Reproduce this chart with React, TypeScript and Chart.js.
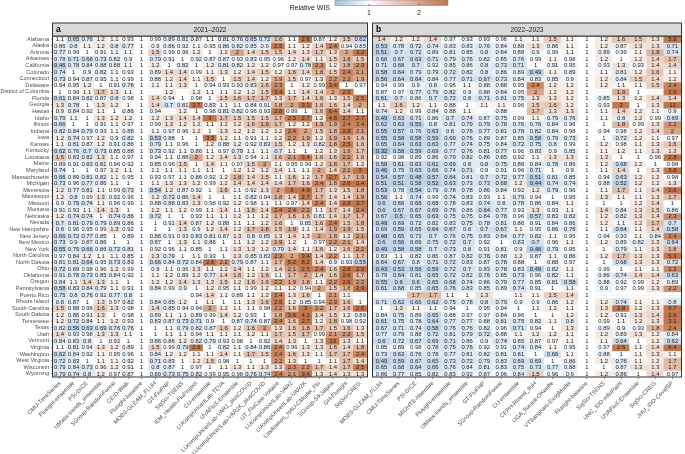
import React, { useEffect, useRef } from "react";
import { Chart, registerables } from "chart.js";
Chart.register(...registerables);

const FONT = "'Liberation Sans', Arial, Helvetica, sans-serif";

const states = [
  "Alabama", "Alaska", "Arizona", "Arkansas", "California", "Colorado", "Connecticut", "Delaware",
  "District of Columbia", "Florida", "Georgia", "Hawaii", "Idaho", "Illinois", "Indiana", "Iowa",
  "Kansas", "Kentucky", "Louisiana", "Maine", "Maryland", "Massachusetts", "Michigan", "Minnesota",
  "Mississippi", "Missouri", "Montana", "Nebraska", "Nevada", "New Hampshire", "New Jersey",
  "New Mexico", "New York", "North Carolina", "North Dakota", "Ohio", "Oklahoma", "Oregon",
  "Pennsylvania", "Puerto Rico", "Rhode Island", "South Carolina", "South Dakota", "Tennessee",
  "Texas", "Utah", "Vermont", "Virginia", "Washington", "West Virginia", "Wisconsin", "Wyoming",
];

const modelsA = [
  "CMU-TimeSeries", "Flusight-ensemble", "PSI-DICE", "UMass-trends_ensemble", "SGroup-RandomForest",
  "CEID-Walk", "Flusight-baseline", "MOBS-GLEAM_FLUH", "GT-FluFNP", "SigSci-TSENS",
  "IEM_Health-FluProject", "CU-ensemble", "LUcompUncertLab-TEVA", "UVAFluX-Ensemble",
  "LUcompUncertLab-VAR2_plusCOVID", "LUcompUncertLab-VAR2K_plusCOVID", "UT_FluCast-Voltaire",
  "LUcompUncertLab-VAR2", "LUcompUncertLab-VAR2K", "LosAlamos_NAU-CModel_Flu", "SGroup-SIkJalpha",
  "GH-Flusight", "SigSci-CREG",
];

const modelsB = [
  "MOBS-GLEAM_FLUH", "CMU-TimeSeries", "PSI-DICE", "MIGHTE-Nsemble", "Flusight-ensemble",
  "UMass-trends_ensemble", "GT-FluFNP", "SGroup-RandomForest", "CU-ensemble", "CEPH-Rtrend_fluH",
  "UGA_flucast-OKeeffe", "VTSanghani-ExogModel", "Flusight-baseline", "SigSci-TSENS",
  "UNC_IDD-InfluPaint", "UVAFluX-Ensemble", "SigSci-CREG", "JHU_IDD-CovidSP",
];

// Relative WIS, season 2021-2022 (rows = states, columns = modelsA)
const wisA: (number | null)[][] = [
  [1.1,0.65,0.76,1.2,1.1,0.93,1,0.99,0.89,0.81,0.87,1.1,0.81,0.76,0.65,0.72,1.6,1.1,2.6,0.87,1.2,1.5,0.62],
  [0.86,0.8,1.1,1.2,0.8,0.77,1,0.9,0.86,0.92,1.1,0.95,0.86,0.82,0.85,0.9,2.5,1.1,1.2,1.4,2.4,0.94,0.85],
  [0.77,0.99,1,0.91,1.1,1.1,1,1.5,0.99,0.96,1.2,1,1.2,2,1.4,1.5,1.5,1.4,1.3,1.7,1.3,2,3.2],
  [0.78,0.71,0.68,0.73,0.82,0.9,1,0.79,0.91,1,0.92,0.87,0.87,0.93,0.83,0.95,0.96,1.2,1.4,1.1,1.5,1.8,1.5],
  [0.46,0.78,0.84,0.88,0.88,1.1,1,1.2,1,0.82,1,1.2,0.81,0.82,1.2,1.2,0.97,0.97,0.78,2.3,1.2,1.8,2.3],
  [0.74,1,0.9,0.82,1.1,0.93,1,0.89,1.4,1.4,0.99,1.1,1.3,1.2,1.4,1.5,1.2,1.6,1.4,1.8,1.5,2.4,2.1],
  [0.73,0.94,0.87,0.95,1.1,0.99,1,0.88,1.2,1.4,1.1,1.5,1,1.5,1.4,1.2,1.9,1.5,0.97,1.3,2.2,2.2,1.9],
  [0.94,0.95,1.2,1,0.91,0.76,1,1.1,1.1,1.3,1,0.94,0.93,0.93,0.83,1.6,2.3,1,1.2,0.99,3.4,1,0.97],
  [1,0.99,1.1,1.7,1.3,1.1,1,null,1.2,null,1.2,1.1,1.1,1.2,1.2,1.5,3.4,1.1,1.4,1.4,2,2.5,null],
  [0.61,0.84,0.82,0.87,0.8,0.98,1,1.4,0.94,1,0.98,1,1.5,1.6,1.7,1.7,1.3,1.7,1.4,1.6,1.3,1.5,2.5],
  [1.3,0.78,1,1.3,1.2,1,1,1.4,0.7,0.81,3.7,0.83,1.1,1.1,0.84,0.91,1.8,2,3.3,1.6,1.6,1.4,2],
  [0.9,0.84,0.92,1.1,1,0.86,1,0.94,null,1.2,1,0.98,0.81,0.82,0.96,0.93,2.8,0.99,1,1.6,6.4,1.4,1.1],
  [0.79,1.1,1,1.3,1.2,1.2,1,1.2,1.3,1.4,1.4,3,1.7,1.5,1.5,1.5,1.7,2.5,2.7,1.2,4.8,2.7,2.7],
  [0.66,1,1,0.91,1.1,0.97,1,0.99,1.3,1.2,1.2,1.1,1.2,1.2,1.6,1.9,1.7,1.2,1.2,1.9,1.9,2.4,2.4],
  [0.82,0.84,0.79,0.93,1.1,0.88,1,1.1,0.97,0.96,1.2,1,1.3,1.2,1.2,1.2,1.2,2.4,2,1.5,1.8,2.8,2.1],
  [1.2,0.74,0.97,1.2,0.9,0.82,1,0.53,0.88,1,1,3.3,1.2,1.1,0.91,1.1,1.2,2.2,1.9,1.2,1.9,1.9,1.6],
  [1.1,0.81,0.87,1.2,0.91,0.86,1,0.79,1.1,0.96,1,1.2,0.88,1.2,0.92,0.83,1.5,1.2,1.3,0.82,1.8,2.5,1.6],
  [0.62,0.76,0.7,0.73,0.85,0.88,1,0.73,0.92,1.1,0.86,1.1,0.97,0.79,1.1,1.1,0.7,1.1,1,1.2,1.3,1.9,1.7],
  [1.6,0.83,0.82,1.3,1.1,0.97,1,0.94,1.1,0.88,2,1.2,1.4,1.3,0.94,1.1,1.6,2.1,3.4,1.6,1.6,2.2,1.6],
  [0.89,0.91,0.83,0.81,0.96,0.92,1,0.85,0.96,1.5,1,1.4,1.1,0.97,1.5,2,1.1,0.95,0.99,1.2,1.8,1.7,1.2],
  [0.74,1,1,0.97,1.2,1.1,1,1.1,1.1,1.1,1.1,1.1,1,1.2,1.2,1.2,1.4,1.1,1.1,2,1.4,2.1,3],
  [0.66,0.89,0.81,0.82,1.1,0.95,1,0.93,0.97,1.1,0.86,0.92,1.2,1.8,1.4,1.5,1.1,1.6,1.2,1.7,2.7,1.7,1.9],
  [0.73,0.96,0.77,0.86,1.1,1,1,1.1,1.3,1.3,1.2,0.99,1.2,1.4,1.4,1.4,1.4,1.7,1.6,2.4,1.8,2.6,3.4],
  [1.2,0.77,0.81,1.1,0.99,0.73,1,0.54,1.2,0.87,0.92,1,1.6,1.1,0.92,1.3,2,3,4.9,1.7,1.3,1.5,1.8],
  [1.2,0.8,0.99,1.3,0.92,0.96,1,1.2,0.72,0.86,1.4,1,1,1.1,0.82,0.94,1.8,1.4,2.7,1.7,1.4,1.4,1.9],
  [0.9,0.79,0.74,1.1,0.96,0.99,1,0.88,0.88,0.83,1.3,0.98,0.92,1.2,0.98,1.1,1.1,0.97,1.4,2.4,1.4,2.8,3.7],
  [0.91,0.93,1.1,1.4,1.3,1,1,1.2,1.1,1.2,0.99,1.1,1.4,1.1,1.6,1.4,2.4,2.4,2.2,1.1,1.7,1.4,2.4],
  [1.2,0.74,0.74,1,0.74,0.86,1,0.72,1,1,0.93,1.1,1.1,1.2,1.1,1.2,1.7,1.6,1.6,0.81,1.4,1.7,1.7],
  [0.7,0.81,0.79,0.79,0.89,0.86,1,1,0.91,1.4,0.87,1.2,0.88,1.1,1.1,1.2,1.6,1,0.85,1.6,2.4,1.5,1.8],
  [0.8,0.96,0.95,0.99,1.3,0.92,1,1,1,1.3,0.9,1.2,1.4,1.2,1.7,1.8,1.5,1.9,1.1,1.4,1.9,1.9,1.5],
  [0.66,0.72,0.77,0.85,1,0.89,1,0.86,0.91,0.93,0.83,0.81,0.87,1.3,0.8,0.85,1.3,1.4,1.3,2,1.8,1.2,2.1],
  [0.73,0.9,0.87,0.86,1,1,1,0.87,1,1.3,1.1,0.86,1,1.1,1.2,1.2,1.9,1.2,1,0.97,2.2,2.1,1.4],
  [0.55,0.75,0.66,0.86,0.72,0.81,1,0.92,0.96,1.1,0.85,1,1.1,1.3,1.3,1.2,0.79,1.4,1.1,1.6,1.2,1.6,2.2],
  [0.97,0.84,1.2,1.1,1.1,0.85,1,1.3,0.79,1,1.1,0.93,1,1.3,0.85,0.83,2.3,2,3.4,1.4,2.2,1.1,1.7],
  [0.81,0.81,0.64,0.95,0.73,0.83,1,0.66,0.84,0.72,0.84,2.9,2.2,0.79,0.87,1.1,1.7,5.2,8.2,1.4,0.9,0.93,0.55],
  [0.72,0.89,0.98,0.96,1.2,0.99,1,0.9,1.1,0.96,1.3,1.1,1.2,1.4,1.1,1.2,1.4,2.1,2.5,2.4,1.6,2.8,2.9],
  [0.91,0.78,0.73,0.85,0.84,0.92,1,1.1,1.2,0.89,1.2,0.77,1.4,1.6,1.2,1.6,1.1,1.7,2,1.4,1.6,2.6,1.7],
  [0.84,1.1,1.4,1.3,1.1,1,1,1.2,1.2,1.4,1.3,1.3,1.5,1.2,1.6,1.6,2.2,1.9,1.8,1.1,2.2,2.6,2.2],
  [0.58,0.83,0.84,0.79,1.1,0.91,1,0.84,0.99,0.9,1,1.2,0.95,1.1,0.99,1.2,1.1,1.2,0.94,2,1.5,1.8,2.9],
  [0.75,0.8,0.76,0.92,0.77,0.8,1,null,null,null,0.94,1.4,1.1,0.89,1.1,1.2,2.4,1.3,1.6,1,2.1,1.1,null],
  [0.8,0.87,1,1.3,0.97,0.82,1,0.84,0.85,1.2,1,1.1,1,1.1,1.3,1.6,2.5,1.2,0.85,0.94,2.3,1.6,1],
  [1.5,0.88,0.96,1.6,1.3,0.98,1,1.4,0.85,0.94,0.94,2,1.2,1.1,1.1,0.98,2.2,1.6,3,2.2,1.7,1.6,2.6],
  [1.2,0.86,0.91,1.3,1,0.98,1,0.89,1.1,1.1,0.89,0.99,1.4,1.2,0.93,1,1.8,3.6,4.1,1.4,1.5,1.2,0.89],
  [1.2,0.72,0.84,1.1,1.2,0.93,1,0.83,0.87,0.73,0.71,0.9,1,0.87,0.74,0.87,2.4,1.6,2.7,1.2,1.8,0.98,0.92],
  [0.82,0.56,0.63,0.69,0.76,0.76,1,1,1.1,0.79,0.82,0.87,1.6,1.2,1.6,2,1.3,1.6,1.8,1.7,1.5,1.6,1.3],
  [1.4,0.93,0.98,1.3,1.3,1.1,1,1,1.1,1.1,0.94,1.1,1.1,1.1,1.2,1.1,1.7,1.5,1.7,0.99,2.1,2.2,1.5],
  [0.84,0.83,0.8,1,0.92,1,1,0.86,0.86,1.2,0.82,0.79,0.93,0.98,1,0.92,1.4,1.3,1,1.3,13,1.3,1.1],
  [1.1,0.81,0.94,1.3,1.2,0.89,1,1.5,0.99,0.79,2.6,1,0.82,1.1,0.84,0.86,2.4,0.96,1.3,1.3,1.6,1.4,1.8],
  [0.62,0.84,0.92,1.1,0.95,0.96,1,0.84,1.2,1.2,1.1,1.1,1.4,1.1,1.7,1.5,2.4,1.6,1.3,1.1,1.7,1.7,2.4],
  [0.72,0.83,1,1.1,1.1,0.92,1,0.71,0.83,1,1.2,1.5,0.98,1,1,1,2.2,1.3,1,1,1.1,1.7,1.4],
  [0.79,0.84,0.73,0.96,1.2,0.91,1,0.8,0.87,1,0.97,1,1.1,1.3,1.1,1.3,1.3,2.3,2.2,1.7,1.4,1.7,2.5],
  [0.79,0.74,0.8,1.2,0.97,0.87,1,0.89,0.73,0.75,0.82,0.99,0.95,0.98,0.76,0.74,2.4,2.1,3.4,1.3,1.4,1.3,1.3],
];

// Relative WIS, season 2022-2023 (rows = states, columns = modelsB)
const wisB: (number | null)[][] = [
  [1.4,1.2,1.2,1.4,0.97,0.93,0.93,0.96,1.1,1.1,1.5,1.1,1,1.2,1.6,1.5,1.3,5.8],
  [0.53,0.78,0.72,0.74,0.83,0.83,0.76,0.84,0.88,1.3,0.86,1.1,1,1.2,0.87,1.3,1.3,0.71],
  [0.51,0.7,0.72,0.89,0.81,0.85,0.8,0.84,0.88,0.9,0.99,1.1,1,0.89,0.99,1.1,1.8,0.74],
  [0.68,0.67,0.63,0.71,0.79,0.76,0.82,0.85,0.76,0.99,1.1,0.98,1,1.2,1,1.2,1.4,1.7],
  [0.71,0.68,0.7,0.92,0.85,0.86,0.8,0.73,0.71,1,0.91,0.95,1,0.93,1.3,0.93,1.4,1.4],
  [0.58,0.64,0.79,0.79,0.72,0.82,0.8,0.86,0.89,0.49,1.1,0.89,1,1.1,0.81,1.2,1.6,1.1],
  [0.56,0.64,0.64,0.84,0.77,0.71,0.67,0.73,0.84,0.83,0.85,0.9,1,1.2,0.84,1.5,1.4,1.2],
  [0.94,0.99,0.9,0.8,0.96,1.1,0.88,0.88,0.95,2.4,1.2,1.2,1,1.2,1.1,1.1,1.5,2.4],
  [0.87,0.97,0.77,0.79,0.82,0.9,0.88,0.84,0.95,2,1.2,1.2,1,null,1.9,1,null,2.8],
  [0.61,0.7,0.86,0.7,0.72,0.8,0.71,0.81,0.75,1.3,1.3,1.2,1,0.85,1.3,1.2,1.4,1.4],
  [1.1,1.6,1.2,1.1,0.88,1,1.1,1.1,0.96,1.5,1.6,1.2,1,0.93,3,1,1.3,12],
  [0.74,1.2,0.99,0.84,0.88,1.1,null,0.88,null,1.7,1.3,1.3,1,1.1,1.4,1.2,1.1,0.9],
  [0.49,0.63,0.71,0.86,0.7,0.74,0.87,0.75,0.99,1.1,0.79,0.76,1,1.1,0.8,1.2,0.99,0.69],
  [0.62,0.63,0.55,0.8,0.81,0.79,0.79,0.78,0.76,0.76,0.84,0.96,1,1,1.8,0.99,1.3,2.2],
  [0.55,0.57,0.76,0.63,0.8,0.76,0.77,0.81,0.78,0.82,0.84,0.98,1,0.94,0.98,1.2,1.4,2],
  [0.55,0.58,0.58,0.59,0.69,0.76,0.89,0.87,0.85,0.58,0.79,0.73,1,1,0.72,1.2,1.1,0.97],
  [0.65,0.64,0.63,0.63,0.77,0.74,0.75,0.84,0.72,0.75,0.8,0.99,1,1.2,0.98,1.1,1.3,1.6],
  [0.32,0.58,0.59,0.69,0.77,0.76,0.81,0.77,0.96,0.83,0.9,0.85,1,1.1,1.2,1.1,1.3,1.3],
  [0.92,0.98,0.89,0.86,0.79,0.82,0.86,0.85,0.92,1.1,1.3,1.3,1,1.3,1,1,0.96,2.8],
  [0.58,0.61,0.63,0.61,0.69,0.8,0.8,0.75,0.86,0.84,0.78,0.86,1,1.2,0.68,1.2,1,0.98],
  [0.46,0.75,0.63,0.66,0.74,0.71,0.9,0.91,0.96,0.71,1,0.9,1,1.1,1.4,1,1.3,3.8],
  [0.54,0.57,0.48,0.57,0.64,0.81,0.7,0.72,0.77,0.51,0.81,0.85,1,0.94,0.63,1.2,1.2,0.98],
  [0.51,0.51,0.58,0.52,0.63,0.73,0.73,0.68,1.2,0.44,0.74,0.74,1,0.88,0.52,1.2,1.2,1.3],
  [0.53,0.78,0.54,0.79,0.78,0.78,0.86,0.84,0.92,1.2,0.79,0.96,1,1.1,1.7,1.1,1.4,2.6],
  [0.56,1.1,0.74,0.99,0.74,0.83,0.93,1.1,0.79,0.94,1,0.95,1,1.3,1.1,1.1,1.3,1.7],
  [0.6,0.66,0.68,0.68,0.78,0.83,0.74,0.8,0.78,0.86,0.84,1.1,1,1,1,1.2,1.4,1],
  [0.6,0.67,0.67,0.69,0.76,0.86,0.64,0.77,0.93,1.3,0.93,1.1,1,1.4,0.84,1.3,1.5,0.86],
  [0.67,0.5,0.65,0.63,0.75,0.75,0.84,0.78,0.96,0.57,0.83,0.82,1,1.2,0.82,1.3,1.4,2.3],
  [0.49,0.69,0.72,0.82,0.83,0.75,0.78,0.81,0.86,0.91,0.84,0.86,1,1.2,1.1,1.2,1.7,0.7],
  [0.69,0.59,0.65,0.64,0.67,0.8,0.7,0.67,1.1,0.95,0.86,0.78,1,1.1,0.64,1.1,1.4,0.58],
  [0.48,0.65,0.73,0.7,0.76,0.75,0.83,0.84,0.77,0.82,1.1,0.95,1,0.94,0.93,1.1,0.84,2.4],
  [0.6,0.56,0.69,0.75,0.72,0.7,0.92,1,0.83,0.7,0.96,1.1,1,1.2,0.89,0.82,1.3,0.64],
  [0.49,0.58,0.58,0.7,0.73,0.8,0.91,0.81,0.9,0.46,0.79,0.95,1,1,0.79,1.1,1.3,1.8],
  [0.83,1.1,0.82,0.86,0.87,0.82,0.76,0.88,1.2,0.87,1.1,0.86,1,1.2,1.7,1.3,1.3,5.3],
  [0.64,0.67,0.8,0.71,0.72,0.83,0.87,0.78,0.88,1,0.88,0.97,1,1,0.68,1.3,1.3,0.72],
  [0.43,0.53,0.56,0.59,0.72,0.7,0.83,0.78,0.83,0.49,0.82,1.1,1,0.99,1,1.1,1.1,2.3],
  [0.79,0.64,0.81,0.65,0.72,0.82,0.76,0.85,0.73,0.96,0.82,1.1,1,0.89,0.74,1.4,1.4,0.63],
  [0.55,0.6,0.6,0.65,0.68,0.74,0.86,0.79,0.77,0.85,0.81,0.58,1,0.88,0.92,0.99,1.2,0.89],
  [0.61,0.68,0.85,0.65,0.76,0.83,0.85,0.89,0.74,0.91,1,1.1,1,0.9,0.97,0.99,1.3,2.2],
  [null,null,1.7,1.7,1.1,1,1.3,null,1.1,1.1,1.5,1.4,1,null,null,null,null,null],
  [0.71,0.62,0.66,0.62,0.75,0.78,0.8,0.79,0.9,0.9,0.86,1.2,1,1.2,0.74,1.1,1.1,0.8],
  [1,1.3,1.1,1.1,0.94,1,0.95,0.94,1,1.1,1.2,1.1,1,1.3,2.8,1.2,1.3,5.7],
  [0.84,0.75,0.89,0.65,0.88,0.97,0.97,0.84,0.96,1,1,1.2,1,1.2,0.91,1.3,1.4,2.6],
  [0.61,0.75,0.78,0.64,0.77,0.77,0.88,0.81,0.75,0.82,1.1,0.8,1,0.99,1.1,1.2,1.3,3.1],
  [0.67,0.71,0.74,0.58,0.76,0.76,0.82,0.96,0.71,0.94,1,1.3,1,0.89,0.9,0.93,1.8,2.4],
  [0.77,0.79,0.88,0.72,0.81,0.79,0.72,0.88,1.1,1.2,1.2,1.1,1,1.2,0.89,1.3,1.2,0.84],
  [0.6,0.72,0.67,0.69,0.71,0.86,0.9,0.74,0.85,0.87,0.97,1.1,1,1.1,0.64,1,1.2,0.62],
  [0.85,0.89,0.98,0.78,0.75,0.76,0.92,0.91,0.74,0.84,1.1,0.95,1,0.97,2.6,1.1,1.4,6.4],
  [0.73,0.63,0.76,0.78,0.77,0.81,0.82,0.81,0.81,1,0.66,1.1,1,0.88,1,1.1,1.3,1.1],
  [0.49,0.59,0.67,0.65,0.73,0.72,0.79,0.83,0.69,0.69,1,0.86,1,1.2,0.76,1.1,1.2,1.7],
  [0.65,0.68,0.64,0.66,0.76,0.84,0.81,0.83,0.75,0.73,0.77,0.88,1,1,0.87,1.3,1.3,1.7],
  [0.86,0.77,0.85,0.82,0.83,0.92,0.87,0.96,0.84,1.5,0.96,0.9,1,1.2,0.86,1,1.4,0.97],
];

const legendTicks = [1, 2];
const LOW = 0.32;
const HIGH = 2.58;
const BLUE = [163, 193, 223];
const ORANGE = [194, 118, 76];

function wisColor(v: number): string {
  let t: number;
  let c: number[];
  if (v < 1) {
    t = Math.min(1, (1 - v) / (1 - LOW));
    c = BLUE;
  } else {
    t = Math.min(1, (v - 1) / (HIGH - 1));
    c = ORANGE;
  }
  t = Math.pow(t, 0.9);
  const r = Math.round(255 + (c[0] - 255) * t);
  const g = Math.round(255 + (c[1] - 255) * t);
  const b = Math.round(255 + (c[2] - 255) * t);
  return `rgb(${r},${g},${b})`;
}

const STRIP_TOP = 23;

type PanelOpts = {
  models: string[];
  values: (number | null)[][];
  tag: string;
  title: string;
  showY: boolean;
  padLeft: number;
  padRight: number;
  legendShift: number | null;
};

function buildConfig(o: PanelOpts): any {
  const datasets = o.values.map((row, r) => ({
    type: "bar",
    label: states[r],
    data: row.map((v) => (v == null ? null : [r, r + 1])),
    backgroundColor: row.map((v) => (v == null ? "rgba(0,0,0,0)" : wisColor(v))),
    borderWidth: 0,
    barPercentage: 1,
    categoryPercentage: 1,
    grouped: false,
  }));

  const cellText = {
    id: "cellText",
    afterDatasetsDraw(chart: any) {
      const ctx = chart.ctx;
      ctx.save();
      ctx.font = `5.9px ${FONT}`;
      ctx.fillStyle = "#222";
      ctx.textAlign = "center";
      ctx.textBaseline = "middle";
      o.values.forEach((row, r) => {
        const meta = chart.getDatasetMeta(r);
        row.forEach((v, c) => {
          if (v == null) return;
          const el: any = meta.data[c];
          if (!el) return;
          ctx.fillText(String(v), el.x, (el.y + el.base) / 2 + 0.3);
        });
      });
      ctx.restore();
    },
  };

  const panelDeco = {
    id: "panelDeco",
    afterDraw(chart: any) {
      const ctx = chart.ctx;
      const { left, right, top, bottom } = chart.chartArea;
      ctx.save();
      ctx.strokeStyle = "#333";
      ctx.lineWidth = 1;
      ctx.strokeRect(left - 0.5, top, right - left + 1, bottom - top);
      ctx.fillStyle = "#d9d9d9";
      ctx.fillRect(left - 0.5, STRIP_TOP, right - left + 1, top - STRIP_TOP);
      ctx.strokeRect(left - 0.5, STRIP_TOP, right - left + 1, top - STRIP_TOP);
      const cy = (STRIP_TOP + top) / 2 + 0.5;
      ctx.fillStyle = "#1a1a1a";
      ctx.textBaseline = "middle";
      ctx.textAlign = "center";
      ctx.font = `6.6px ${FONT}`;
      ctx.fillText(o.title, (left + right) / 2, cy);
      ctx.textAlign = "left";
      ctx.font = `bold 8.5px ${FONT}`;
      ctx.fillStyle = "#000";
      ctx.fillText(o.tag, left + 3, cy);
      ctx.restore();
    },
  };

  const plugins: any[] = [cellText, panelDeco];

  if (o.legendShift != null) {
    const sh = o.legendShift;
    plugins.push({
      id: "wisLegend",
      afterDraw(chart: any) {
        const ctx = chart.ctx;
        const x0 = 335 - sh;
        const x1 = 448 - sh;
        const y0 = 0;
        const y1 = 5.5;
        ctx.save();
        const g = ctx.createLinearGradient(x0, 0, x1, 0);
        const n = 40;
        for (let i = 0; i <= n; i++) {
          const v = LOW + ((HIGH - LOW) * i) / n;
          g.addColorStop(i / n, wisColor(v));
        }
        ctx.fillStyle = g;
        ctx.fillRect(x0, y0, x1 - x0, y1 - y0);
        ctx.strokeStyle = "#8a8a8a";
        ctx.lineWidth = 0.6;
        ctx.strokeRect(x0, y0, x1 - x0, y1 - y0);
        ctx.strokeStyle = "#444";
        ctx.lineWidth = 0.8;
        ctx.fillStyle = "#1a1a1a";
        ctx.font = `7px ${FONT}`;
        ctx.textAlign = "center";
        ctx.textBaseline = "middle";
        legendTicks.forEach((t) => {
          const x = x0 + ((t - LOW) / (HIGH - LOW)) * (x1 - x0);
          ctx.beginPath();
          ctx.moveTo(x, y1 - 1.6);
          ctx.lineTo(x, y1);
          ctx.stroke();
          ctx.fillText(String(t), x, 13.5);
        });
        ctx.textAlign = "right";
        ctx.font = `7px ${FONT}`;
        ctx.fillText("Relative WIS", x0 - 5, 8.5);
        ctx.restore();
      },
    });
  }

  return {
    type: "bar",
    data: { labels: o.models, datasets },
    plugins,
    options: {
      responsive: false,
      animation: false,
      devicePixelRatio: 1,
      layout: { padding: { top: 36, bottom: 0, left: o.padLeft, right: o.padRight } },
      plugins: {
        legend: { display: false },
        tooltip: { enabled: false },
        title: { display: false },
      },
      scales: {
        x: {
          type: "category",
          offset: true,
          grid: {
            offset: false,
            color: "#ebebeb",
            lineWidth: 0.5,
            tickColor: "#333",
            tickLength: 2,
          },
          border: { display: false },
          ticks: {
            autoSkip: false,
            maxRotation: 45,
            minRotation: 45,
            padding: 1,
            color: "#4d4d4d",
            font: { family: FONT, size: 5.8 },
          },
          afterFit: (s: any) => {
            s.height = 77;
          },
        },
        y: {
          type: "linear",
          min: 0,
          max: 52,
          reverse: true,
          grid: {
            color: "#ebebeb",
            lineWidth: 0.5,
            tickColor: "#333",
            drawTicks: o.showY,
            tickLength: o.showY ? 2 : 0,
          },
          border: { display: false },
          ticks: {
            display: o.showY,
            autoSkip: false,
            padding: 2,
            color: "#4d4d4d",
            font: { family: FONT, size: 5.6 },
            callback: (_v: any, i: number) => states[i],
          },
          afterBuildTicks: (s: any) => {
            s.ticks = states.map((_, i) => ({ value: i + 0.5 }));
          },
          afterFit: (s: any) => {
            s.width = o.showY ? 53 : 0;
          },
        },
      },
    },
  };
}

export default function App() {
  const refA = useRef<HTMLCanvasElement | null>(null);
  const refB = useRef<HTMLCanvasElement | null>(null);

  useEffect(() => {
    document.body.style.margin = "0";
    const a = new Chart(
      refA.current as HTMLCanvasElement,
      buildConfig({
        models: modelsA,
        values: wisA,
        tag: "a",
        title: "2021\u20132022",
        showY: true,
        padLeft: 0,
        padRight: 3,
        legendShift: null,
      })
    );
    const b = new Chart(
      refB.current as HTMLCanvasElement,
      buildConfig({
        models: modelsB,
        values: wisB,
        tag: "b",
        title: "2022\u20132023",
        showY: false,
        padLeft: 123,
        padRight: 4,
        legendShift: 250,
      })
    );
    return () => {
      a.destroy();
      b.destroy();
    };
  }, []);

  return (
    <div style={{ position: "relative", width: 685, height: 454, background: "#fff", overflow: "hidden" }}>
      <canvas ref={refA} width={370} height={454} style={{ position: "absolute", left: 0, top: 0 }} />
      <canvas ref={refB} width={435} height={454} style={{ position: "absolute", left: 250, top: 0 }} />
    </div>
  );
}
